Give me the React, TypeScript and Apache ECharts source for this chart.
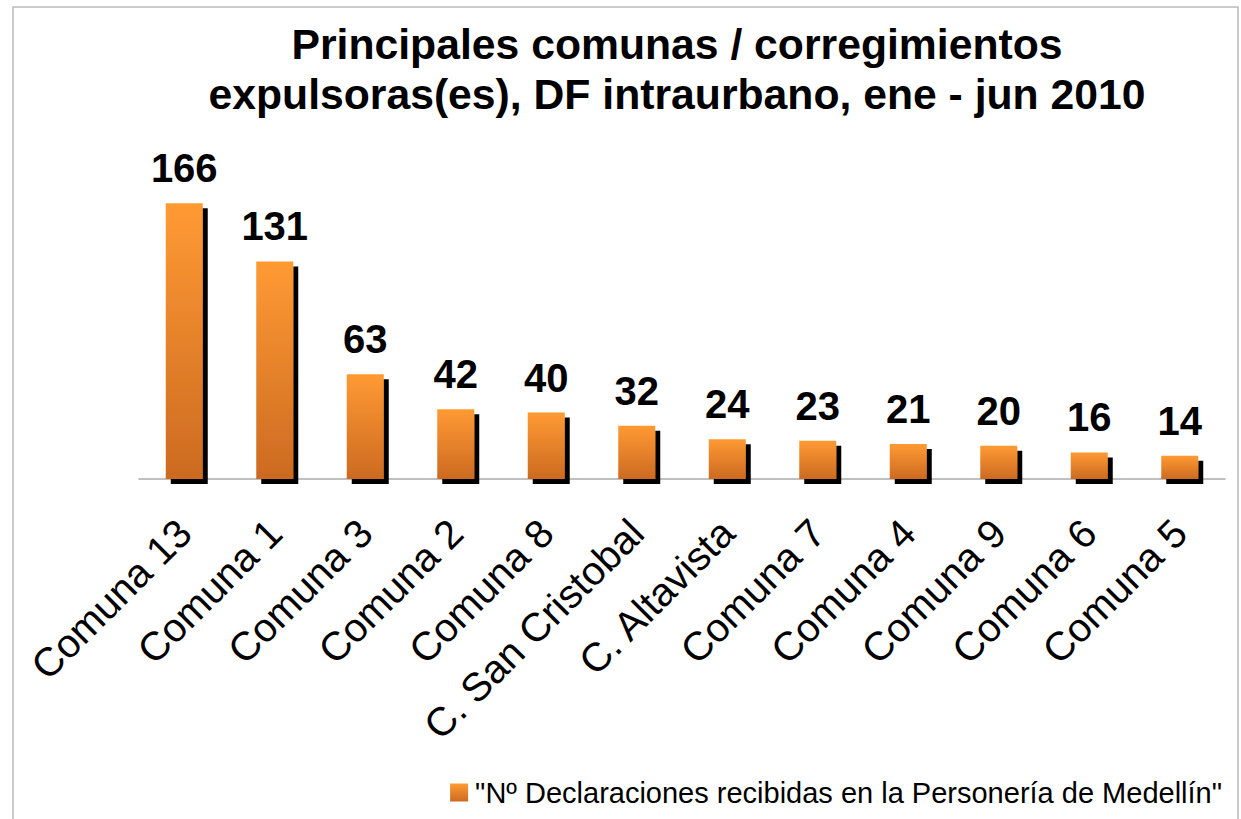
import React, { useEffect, useRef } from "react";
import * as echarts from "echarts";

const categories = [
  "Comuna 13", "Comuna 1", "Comuna 3", "Comuna 2", "Comuna 8", "C. San Cristobal",
  "C. Altavista", "Comuna 7", "Comuna 4", "Comuna 9", "Comuna 6", "Comuna 5",
];
const values = [166, 131, 63, 42, 40, 32, 24, 23, 21, 20, 16, 14];
const seriesName = "\"Nº Declaraciones recibidas en la Personería de Medellín\"";
const titleLines = [
  "Principales comunas / corregimientos",
  "expulsoras(es), DF intraurbano, ene - jun 2010",
];

export default function App() {
  const ref = useRef<HTMLDivElement>(null);
  useEffect(() => {
    document.body.style.margin = "0";
    const chart = echarts.init(ref.current!, null, { renderer: "svg" });
    const grad = new echarts.graphic.LinearGradient(0, 0, 0, 1, [
      { offset: 0, color: "#FF9A33" },
      { offset: 1, color: "#CC6A22" },
    ]);
    chart.setOption({
      animation: false,
      backgroundColor: "#fff",
      title: {
        text: titleLines.join("\n"),
        left: 672,
        textAlign: "center",
        top: 14,
        textStyle: {
          fontFamily: "Liberation Sans, Arial, sans-serif",
          fontWeight: "bold",
          fontSize: 42.7,
          lineHeight: 50,
          color: "#000",
        },
      },
      graphic: [
        {
          type: "rect",
          shape: { x: 13, y: 7, width: 1225, height: 830 },
          style: { fill: "none", stroke: "#BBBBBB", lineWidth: 1.5 },
          silent: true,
          z: -10,
        },
      ],
      legend: {
        right: 14,
        bottom: 7,
        itemWidth: 18,
        itemHeight: 18,
        icon: "rect",
        itemGap: 8,
        itemStyle: { shadowColor: "rgba(0,0,0,0)", shadowBlur: 0, shadowOffsetX: 0, shadowOffsetY: 0 },
        textStyle: {
          fontFamily: "Liberation Sans, Arial, sans-serif",
          fontSize: 29,
          color: "#000",
          padding: [0, 0, 0, 2],
        },
        data: [seriesName],
      },
      grid: { left: 139, right: 16, top: 180, bottom: 340, containLabel: false },
      xAxis: {
        type: "category",
        data: categories,
        axisLine: { show: true, lineStyle: { color: "#AAAAAA", width: 1.5 } },
        axisTick: { show: false },
        axisLabel: {
          rotate: 45,
          interval: 0,
          margin: 47,
          fontFamily: "Liberation Sans, Arial, sans-serif",
          fontSize: 40,
          color: "#000",
        },
      },
      yAxis: {
        type: "value",
        min: 0,
        max: 180,
        show: false,
        splitLine: { show: false },
      },
      series: [
        {
          name: seriesName,
          type: "bar",
          data: values,
          barWidth: 37,
          itemStyle: {
            color: grad,
            shadowColor: "#000",
            shadowBlur: 0,
            shadowOffsetX: 5,
            shadowOffsetY: 5,
          },
          label: {
            show: true,
            position: "top",
            distance: 15,
            fontFamily: "Liberation Sans, Arial, sans-serif",
            fontWeight: "bold",
            fontSize: 40,
            color: "#000",
          },
        },
      ],
    });
    return () => chart.dispose();
  }, []);
  return <div ref={ref} style={{ width: 1241, height: 819 }} />;
}
